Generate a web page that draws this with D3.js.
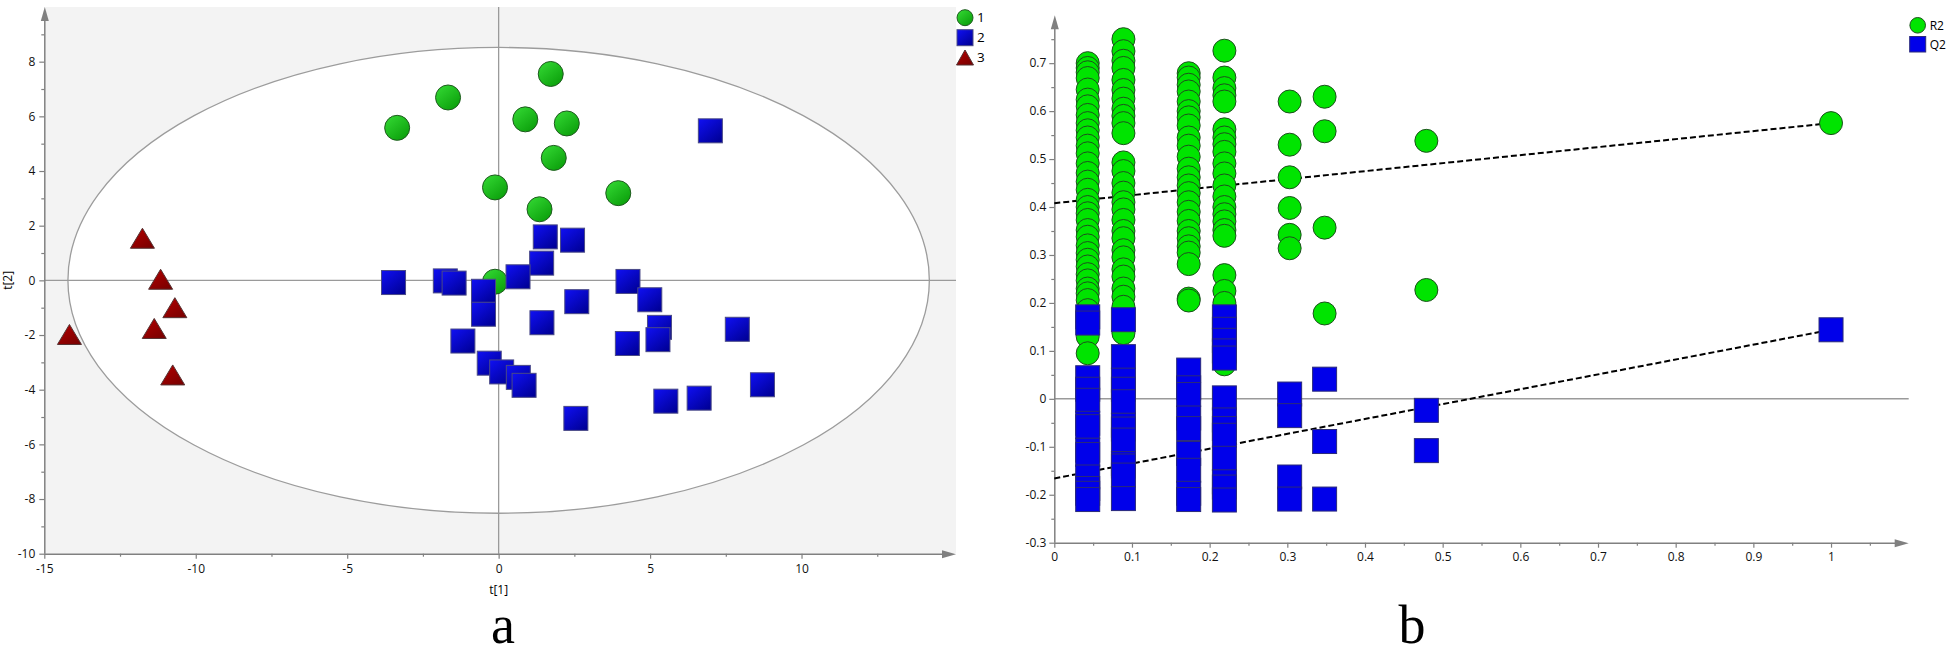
<!DOCTYPE html>
<html><head><meta charset="utf-8">
<script src="https://cdn.jsdelivr.net/npm/d3@7"></script>
<style>html,body{margin:0;padding:0;background:#fff;}svg{display:block;}</style>
</head><body>
<svg id="chart" width="1950" height="656"></svg>
<script>
// ---------- Panel a : score plot t[1] vs t[2] ----------
const group1X = [-3.35, -1.67, 1.72, 0.88, 2.25, 1.82, -0.12, 3.95, 1.35, -0.12];
const group1Y = [5.58, 6.69, 7.55, 5.89, 5.74, 4.48, 3.40, 3.19, 2.60, -0.05];
const group2X = [6.99, 1.54, 2.44, 1.42, 0.64, -3.47, -1.76, -1.47, -0.50, -0.50, 2.58, 4.27, 4.99, -1.18, 1.43, 5.31, 5.26, 4.25, 7.88, -0.31, 0.10, 0.65, 0.84, 2.55, 5.52, 6.62, 8.71];
const group2Y = [5.47, 1.59, 1.47, 0.63, 0.13, -0.08, -0.02, -0.10, -0.40, -1.24, -0.78, -0.04, -0.71, -2.22, -1.55, -1.72, -2.17, -2.31, -1.79, -3.03, -3.35, -3.55, -3.84, -5.05, -4.42, -4.31, -3.82];
const group3X = [-11.76, -11.16, -10.69, -11.37, -14.17, -10.76];
const group3Y = [1.54, 0.04, -1.00, -1.76, -1.98, -3.46];
const groupNames = ["1", "2", "3"];
const ellipseRadiusT1 = 14.22;
const ellipseRadiusT2 = 8.52;
const xTicksA = [-15, -10, -5, 0, 5, 10];
const xTickLabelsA = ["-15", "-10", "-5", "0", "5", "10"];
const xMinorA = [-12.5, -7.5, -2.5, 2.5, 7.5, 12.5];
const yTicksA = [-10, -8, -6, -4, -2, 0, 2, 4, 6, 8];
const yTickLabelsA = ["-10", "-8", "-6", "-4", "-2", "0", "2", "4", "6", "8"];
const yMinorA = [-9, -7, -5, -3, -1, 1, 3, 5, 7, 9];

// ---------- Panel b : permutation test ----------
const permX = [0.043, 0.089, 0.173, 0.219, 0.303, 0.348, 0.479, 1.0];
const r2Col1 = [0.700, 0.690, 0.681, 0.669, 0.645, 0.624, 0.610, 0.592, 0.575, 0.560, 0.545, 0.528, 0.512, 0.491, 0.471, 0.453, 0.436, 0.415, 0.400, 0.387, 0.373, 0.352, 0.338, 0.320, 0.304, 0.290, 0.276, 0.260, 0.247, 0.230, 0.220, 0.206, 0.185, 0.160, 0.130, 0.095];
const r2Col2 = [0.750, 0.725, 0.705, 0.690, 0.665, 0.644, 0.626, 0.605, 0.590, 0.575, 0.554, 0.493, 0.475, 0.450, 0.430, 0.410, 0.395, 0.373, 0.350, 0.335, 0.310, 0.295, 0.270, 0.255, 0.230, 0.213, 0.192, 0.137];
const r2Col3 = [0.679, 0.670, 0.655, 0.641, 0.620, 0.600, 0.587, 0.570, 0.545, 0.528, 0.505, 0.480, 0.462, 0.445, 0.429, 0.410, 0.390, 0.371, 0.350, 0.335, 0.318, 0.305, 0.281, 0.209, 0.205];
const r2Col4 = [0.726, 0.670, 0.648, 0.633, 0.620, 0.562, 0.545, 0.531, 0.515, 0.491, 0.470, 0.445, 0.422, 0.400, 0.385, 0.370, 0.352, 0.340, 0.258, 0.225, 0.200, 0.165, 0.120, 0.080, 0.072];
const r2Col5 = [0.620, 0.530, 0.462, 0.398, 0.342, 0.314];
const r2Col6 = [0.630, 0.558, 0.357, 0.178];
const r2Col7 = [0.538, 0.227];
const r2Col8 = [0.575];
const q2Col1 = [0.171, 0.158, 0.044, 0.020, -0.003, -0.051, -0.058, -0.107, -0.116, -0.163, -0.187, -0.197, -0.210];
const q2Col2 = [0.165, 0.088, 0.039, 0.020, -0.006, -0.055, -0.063, -0.086, -0.135, -0.140, -0.159, -0.208];
const q2Col3 = [0.060, 0.023, 0.009, -0.040, -0.062, -0.114, -0.149, -0.197, -0.210];
const q2Col4 = [0.171, 0.145, 0.122, 0.100, 0.085, 0.002, -0.044, -0.062, -0.076, -0.124, -0.173, -0.184, -0.211];
const q2Col5 = [0.010, -0.035, -0.163, -0.209];
const q2Col6 = [0.041, -0.089, -0.209];
const q2Col7 = [-0.024, -0.108];
const q2Col8 = [0.144];
const r2Intercept = 0.408;
const q2Intercept = -0.166;
const seriesNamesB = ["R2", "Q2"];
const xTicksB = [0, 0.1, 0.2, 0.3, 0.4, 0.5, 0.6, 0.7, 0.8, 0.9, 1];
const xTickLabelsB = ["0", "0.1", "0.2", "0.3", "0.4", "0.5", "0.6", "0.7", "0.8", "0.9", "1"];
const xMinorB = [0.05, 0.15, 0.25, 0.35, 0.45, 0.55, 0.65, 0.75, 0.85, 0.95, 1.05];
const yTicksB = [-0.3, -0.2, -0.1, 0, 0.1, 0.2, 0.3, 0.4, 0.5, 0.6, 0.7];
const yTickLabelsB = ["-0.3", "-0.2", "-0.1", "0", "0.1", "0.2", "0.3", "0.4", "0.5", "0.6", "0.7"];
const yMinorB = [-0.25, -0.15, -0.05, 0.05, 0.15, 0.25, 0.35, 0.45, 0.55, 0.65, 0.75];

const panelLabels = ["a", "b"];

// ---------- drawing ----------
const FONT = "'Open Sans','Noto Sans',sans-serif";
const AXIS = "#808080";
const svg = d3.select("#chart");
svg.append("rect").attr("width", 1950).attr("height", 656).attr("fill", "#fff");

const defs = svg.append("defs");
function grad(id, c0, c1) {
  const g = defs.append("linearGradient").attr("id", id)
    .attr("x1", 0).attr("y1", 0).attr("x2", 0.8).attr("y2", 1);
  g.append("stop").attr("offset", 0).attr("stop-color", c0);
  g.append("stop").attr("offset", 1).attr("stop-color", c1);
}
grad("gGreen", "#36dc36", "#0a9e0a");
grad("gBlue", "#1010f4", "#000098");
grad("gRed", "#b40000", "#7a0000");

function axes(g, xs, ys, o) {
  const x0 = xs.range()[0], x1 = xs.range()[1];
  const y0 = ys.range()[0], y1 = ys.range()[1];
  const bx = g.append("g").attr("transform", `translate(0,${y0})`)
    .call(d3.axisBottom(xs).tickValues(o.xMajor).tickFormat((d, i) => o.xLabels[i])
      .tickSize(5).tickPadding(o.xPad).tickSizeOuter(0));
  const bxm = g.append("g").attr("transform", `translate(0,${y0})`)
    .call(d3.axisBottom(xs).tickValues(o.xMinor).tickFormat("").tickSize(3).tickSizeOuter(0));
  const ly = g.append("g").attr("transform", `translate(${x0},0)`)
    .call(d3.axisLeft(ys).tickValues(o.yMajor).tickFormat((d, i) => o.yLabels[i])
      .tickSize(5).tickPadding(o.yPad).tickSizeOuter(0));
  const lym = g.append("g").attr("transform", `translate(${x0},0)`)
    .call(d3.axisLeft(ys).tickValues(o.yMinor).tickFormat("").tickSize(3).tickSizeOuter(0));
  [bx, bxm, ly, lym].forEach(a => {
    a.select(".domain").remove();
    a.selectAll("line").attr("stroke", AXIS).attr("stroke-width", 1.2);
    a.selectAll("text").attr("font-family", FONT).attr("font-size", 12).attr("fill", "#111");
  });
  g.append("line").attr("x1", x0).attr("x2", x1 - 10).attr("y1", y0 + 0.5).attr("y2", y0 + 0.5)
    .attr("stroke", AXIS).attr("stroke-width", 1.5);
  g.append("line").attr("x1", x0 + 0.5).attr("x2", x0 + 0.5).attr("y1", y0).attr("y2", y1 + 10)
    .attr("stroke", AXIS).attr("stroke-width", 1.5);
  g.append("path").attr("d", `M${x1},${y0 + 0.5}L${x1 - 14},${y0 - 3.5}L${x1 - 14},${y0 + 4.5}Z`).attr("fill", AXIS);
  g.append("path").attr("d", `M${x0 + 0.5},${y1}L${x0 - 3.5},${y1 + 14}L${x0 + 4.5},${y1 + 14}Z`).attr("fill", AXIS);
}

// ===== Panel a =====
const ga = svg.append("g");
const xA = d3.scaleLinear().domain([-15, 15.1]).range([44.3, 956]);
const yA = d3.scaleLinear().domain([-10, 10]).range([553.7, 7]);
ga.append("rect").attr("x", xA(-15)).attr("y", yA(10))
  .attr("width", xA(15.1) - xA(-15)).attr("height", yA(-10) - yA(10)).attr("fill", "#f3f3f3");
ga.append("ellipse").attr("cx", xA(0)).attr("cy", yA(0))
  .attr("rx", xA(ellipseRadiusT1) - xA(0)).attr("ry", yA(0) - yA(ellipseRadiusT2))
  .attr("fill", "#fff").attr("stroke", "#9c9c9c").attr("stroke-width", 1.3);
ga.append("line").attr("x1", xA(0)).attr("x2", xA(0)).attr("y1", yA(10)).attr("y2", yA(-10))
  .attr("stroke", "#9a9a9a").attr("stroke-width", 1.3);
ga.append("line").attr("x1", xA(-15)).attr("x2", xA(15.1)).attr("y1", yA(0)).attr("y2", yA(0))
  .attr("stroke", "#9a9a9a").attr("stroke-width", 1.3);
axes(ga, xA, yA, {xMajor: xTicksA, xLabels: xTickLabelsA, xMinor: xMinorA, xPad: 6,
  yMajor: yTicksA, yLabels: yTickLabelsA, yMinor: yMinorA, yPad: 4});

const g1 = group1X.map((x, i) => ({x, y: group1Y[i]}));
const g2 = group2X.map((x, i) => ({x, y: group2Y[i]}));
const g3 = group3X.map((x, i) => ({x, y: group3Y[i]}));
ga.selectAll("circle.g1").data(g1).join("circle").attr("class", "g1")
  .attr("cx", d => xA(d.x)).attr("cy", d => yA(d.y)).attr("r", 12.5)
  .attr("fill", "url(#gGreen)").attr("stroke", "#1f5a1f").attr("stroke-width", 1);
ga.selectAll("rect.g2").data(g2).join("rect").attr("class", "g2")
  .attr("x", d => xA(d.x) - 12).attr("y", d => yA(d.y) - 12).attr("width", 24).attr("height", 24)
  .attr("fill", "url(#gBlue)").attr("stroke", "#4a4a86").attr("stroke-width", 1);
const tri = (cx, cy, w, h) => `M${cx},${cy - h / 2}L${cx + w / 2},${cy + h / 2}L${cx - w / 2},${cy + h / 2}Z`;
ga.selectAll("path.g3").data(g3).join("path").attr("class", "g3")
  .attr("d", d => tri(xA(d.x), yA(d.y), 24, 20))
  .attr("fill", "url(#gRed)").attr("stroke", "#553333").attr("stroke-width", 1);

ga.append("text").attr("x", xA(0)).attr("y", 594).attr("text-anchor", "middle")
  .attr("font-family", FONT).attr("font-size", 12).text("t[1]");
ga.append("text").attr("transform", `translate(12,${yA(0)}) rotate(-90)`).attr("text-anchor", "middle")
  .attr("font-family", FONT).attr("font-size", 12).text("t[2]");

// legend a
const legA = ga.append("g");
const lx = 965;
legA.append("circle").attr("cx", lx).attr("cy", 17.7).attr("r", 8)
  .attr("fill", "url(#gGreen)").attr("stroke", "#1f5a1f");
legA.append("rect").attr("x", lx - 8).attr("y", 29.7).attr("width", 16).attr("height", 16)
  .attr("fill", "url(#gBlue)").attr("stroke", "#4a4a86");
legA.append("path").attr("d", tri(lx, 57.5, 17, 15)).attr("fill", "url(#gRed)").attr("stroke", "#553333");
groupNames.forEach((n, i) => legA.append("text").attr("x", lx + 12).attr("y", 17.7 + i * 19.9)
  .attr("dy", "0.35em").attr("font-family", FONT).attr("font-size", 13.5).text(n));

// ===== Panel b =====
const gb = svg.append("g");
const xB = d3.scaleLinear().domain([0, 1.1]).range([1054.3, 1908.7]);
const yB = d3.scaleLinear().domain([-0.3, 0.8]).range([542.7, 15.2]);
gb.append("line").attr("x1", xB(0)).attr("x2", xB(1.1)).attr("y1", yB(0)).attr("y2", yB(0))
  .attr("stroke", "#9a9a9a").attr("stroke-width", 1.5);
axes(gb, xB, yB, {xMajor: xTicksB, xLabels: xTickLabelsB, xMinor: xMinorB, xPad: 5,
  yMajor: yTicksB, yLabels: yTickLabelsB, yMinor: yMinorB, yPad: 3});

const r2Cols = [r2Col1, r2Col2, r2Col3, r2Col4, r2Col5, r2Col6, r2Col7, r2Col8];
const q2Cols = [q2Col1, q2Col2, q2Col3, q2Col4, q2Col5, q2Col6, q2Col7, q2Col8];
const r2Pts = r2Cols.flatMap((c, i) => c.map(v => ({x: permX[i], y: v})));
const q2Pts = q2Cols.flatMap((c, i) => c.map(v => ({x: permX[i], y: v})));
const r2Slope = r2Col8[0] - r2Intercept;
const q2Slope = q2Col8[0] - q2Intercept;
[[r2Intercept, r2Slope], [q2Intercept, q2Slope]].forEach(([b, m]) => {
  gb.append("line").attr("x1", xB(0)).attr("y1", yB(b)).attr("x2", xB(1)).attr("y2", yB(b + m))
    .attr("stroke", "#000").attr("stroke-width", 2).attr("stroke-dasharray", "6,3");
});
gb.selectAll("circle.r2").data(r2Pts).join("circle").attr("class", "r2")
  .attr("cx", d => xB(d.x)).attr("cy", d => yB(d.y)).attr("r", 11.5)
  .attr("fill", "#00e400").attr("stroke", "#1d4f1d").attr("stroke-width", 1);
gb.selectAll("rect.q2").data(q2Pts).join("rect").attr("class", "q2")
  .attr("x", d => xB(d.x) - 12).attr("y", d => yB(d.y) - 12).attr("width", 24).attr("height", 24)
  .attr("fill", "#0000ea").attr("stroke", "#2a2a7a").attr("stroke-width", 1);

const legB = gb.append("g");
const lbx = 1917.7;
legB.append("circle").attr("cx", lbx).attr("cy", 25.3).attr("r", 7.8)
  .attr("fill", "#00e400").attr("stroke", "#1d4f1d");
legB.append("rect").attr("x", lbx - 8).attr("y", 36.5).attr("width", 16).attr("height", 15.5)
  .attr("fill", "#0000ea").attr("stroke", "#2a2a7a");
seriesNamesB.forEach((n, i) => legB.append("text").attr("x", lbx + 12).attr("y", 25.3 + i * 19)
  .attr("dy", "0.35em").attr("font-family", FONT).attr("font-size", 12).text(n));

// panel labels
[[503, panelLabels[0]], [1412, panelLabels[1]]].forEach(([x, t]) => {
  svg.append("text").attr("x", x).attr("y", 643).attr("text-anchor", "middle")
    .attr("font-family", "'Liberation Serif','Times New Roman',serif").attr("font-size", 54).text(t);
});
</script>
</body></html>
